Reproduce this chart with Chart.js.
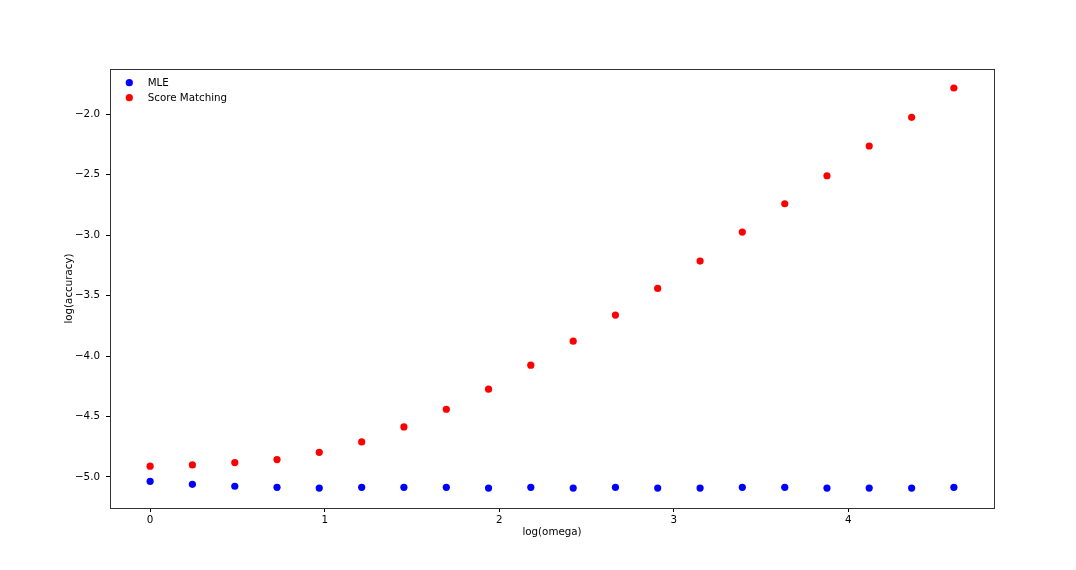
<!DOCTYPE html>
<html>
<head>
<meta charset="utf-8">
<script src="https://cdn.jsdelivr.net/npm/chart.js@4.4.1/dist/chart.umd.min.js"></script>
<style>
  html, body { margin: 0; padding: 0; background: #fff; }
  #wrap { width: 1076px; height: 570px; }
</style>
</head>
<body>
<div id="wrap"><canvas id="accChart"></canvas></div>
<script>
// log(omega) values, evenly spaced 0 .. log(100)
const logOmega = [0, 0.242, 0.485, 0.727, 0.969, 1.212, 1.454, 1.697, 1.939, 2.181,
  2.424, 2.666, 2.908, 3.151, 3.393, 3.636, 3.878, 4.120, 4.363, 4.605];
const mleAcc = [-5.036, -5.061, -5.077, -5.086, -5.092, -5.086, -5.086, -5.086, -5.092, -5.086,
  -5.092, -5.086, -5.092, -5.092, -5.086, -5.086, -5.092, -5.092, -5.092, -5.086];
const smAcc = [-4.911, -4.901, -4.881, -4.856, -4.796, -4.710, -4.586, -4.440, -4.274, -4.075,
  -3.877, -3.661, -3.440, -3.214, -2.974, -2.740, -2.508, -2.262, -2.025, -1.782];
const xTicks = [0, 1, 2, 3, 4];
const yTicks = [-5.0, -4.5, -4.0, -3.5, -3.0, -2.5, -2.0];

const FONT = "'DejaVu Sans', sans-serif";
const FSIZE = 10.3;
const toPts = (ys) => ys.map((y, i) => ({ x: logOmega[i], y: y }));
const minus = (v) => String(v).replace('-', '\u2212');

// matplotlib-like box + legend in upper left
const boxAndLegend = {
  id: 'boxAndLegend',
  afterDraw(chart) {
    const { ctx, chartArea: a } = chart;
    ctx.save();
    ctx.strokeStyle = '#333';
    ctx.lineWidth = 1;
    ctx.strokeRect(a.left + 0.5, a.top + 0.5, a.right - a.left, a.bottom - a.top);

    ctx.font = FSIZE + 'px ' + FONT;
    ctx.textBaseline = 'middle';
    ctx.textAlign = 'left';
    chart.data.datasets.forEach((ds, i) => {
      const y = 82.7 + i * 15;
      ctx.fillStyle = ds.backgroundColor;
      ctx.beginPath();
      ctx.arc(129.3, y, 3.6, 0, Math.PI * 2);
      ctx.fill();
      ctx.fillStyle = '#000';
      ctx.fillText(ds.label, 147.7, y + 0.5);
    });
    ctx.restore();
  }
};

new Chart(document.getElementById('accChart'), {
  type: 'scatter',
  data: {
    datasets: [
      { label: 'MLE', data: toPts(mleAcc), backgroundColor: '#0000ff',
        pointRadius: 3.6, pointHoverRadius: 3.6, borderWidth: 0 },
      { label: 'Score Matching', data: toPts(smAcc), backgroundColor: '#ff0000',
        pointRadius: 3.6, pointHoverRadius: 3.6, borderWidth: 0 }
    ]
  },
  options: {
    responsive: true,
    maintainAspectRatio: false,
    animation: false,
    layout: { padding: { top: 69, right: 82, left: 0, bottom: 0 } },
    plugins: {
      legend: { display: false },
      tooltip: { enabled: false }
    },
    scales: {
      x: {
        type: 'linear',
        min: -0.230,
        max: 4.835,
        afterFit: (s) => { s.height = 62; },
        afterBuildTicks: (s) => { s.ticks = xTicks.map(v => ({ value: v })); },
        border: { display: false },
        grid: { drawOnChartArea: false, tickLength: 4, tickColor: '#000', lineWidth: 1 },
        ticks: { color: '#000', padding: 2, font: { family: FONT, size: FSIZE },
          maxRotation: 0, callback: (v) => minus(v) },
        title: { display: true, text: 'log(omega)', color: '#000',
          font: { family: FONT, size: FSIZE }, padding: { top: 0, bottom: 31 } }
      },
      y: {
        type: 'linear',
        min: -5.257,
        max: -1.625,
        afterFit: (s) => { s.width = 110; },
        afterBuildTicks: (s) => { s.ticks = yTicks.map(v => ({ value: v })); },
        border: { display: false },
        grid: { drawOnChartArea: false, tickLength: 4, tickColor: '#000', lineWidth: 1 },
        ticks: { color: '#000', padding: 6, font: { family: FONT, size: FSIZE },
          callback: (v) => minus(v.toFixed(1)) },
        title: { display: true, text: 'log(accuracy)', color: '#000',
          font: { family: FONT, size: FSIZE }, padding: { top: 63, bottom: 0 } }
      }
    }
  },
  plugins: [boxAndLegend]
});
</script>
</body>
</html>
